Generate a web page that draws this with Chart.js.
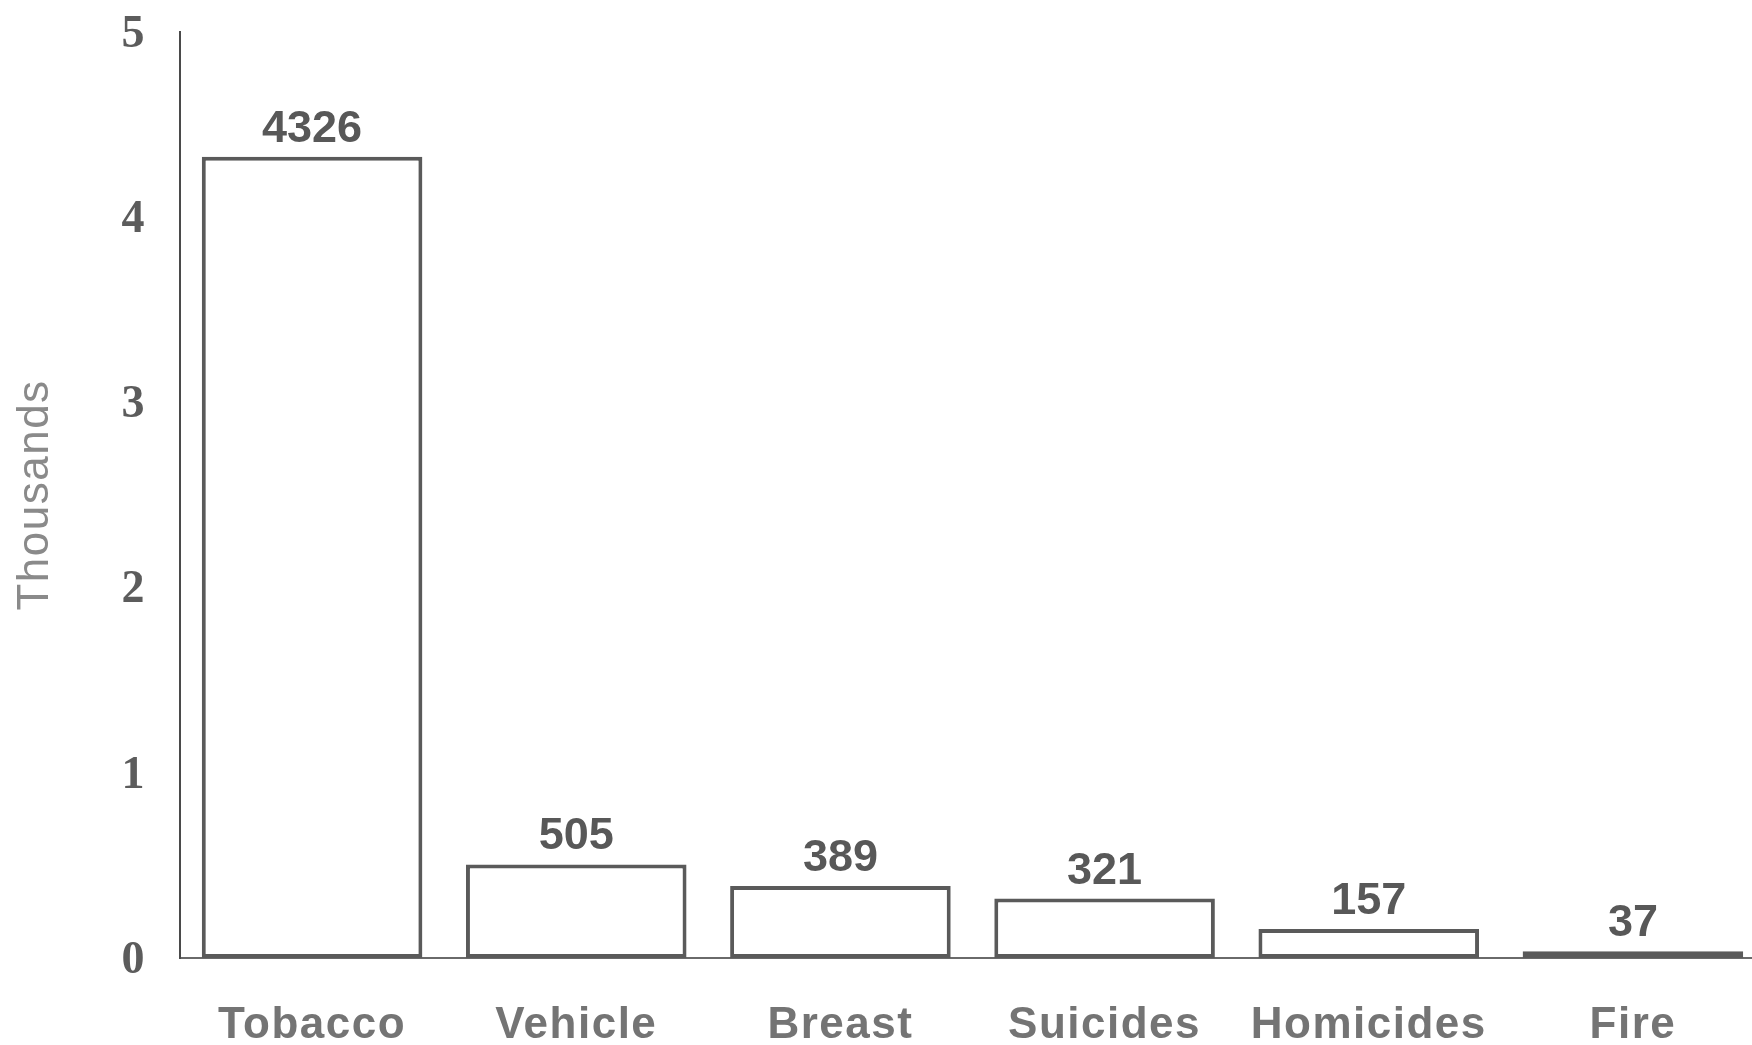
<!DOCTYPE html>
<html>
<head>
<meta charset="utf-8">
<title>Deaths by cause</title>
<script src="https://cdn.jsdelivr.net/npm/chart.js@4/dist/chart.umd.min.js"></script>
<style>
  html, body { margin: 0; padding: 0; background: #ffffff; overflow: hidden; }
  #wrap { width: 1780px; height: 1045px; }
</style>
</head>
<body>
<div id="wrap"><canvas id="chart" width="1780" height="1045"></canvas></div>
<script>
// Causes of death and their counts
const categories = ['Tobacco', 'Vehicle', 'Breast', 'Suicides', 'Homicides', 'Fire'];
const deaths = [4326, 505, 389, 321, 157, 37];
// Y axis shown in thousands
const yTickValues = [0, 1000, 2000, 3000, 4000, 5000];
const yAxisTitle = 'Thousands';

// Writes each bar's value just above it
const valueLabels = {
  id: 'valueLabels',
  afterDatasetsDraw(chart) {
    const ctx = chart.ctx;
    const meta = chart.getDatasetMeta(0);
    ctx.save();
    ctx.letterSpacing = '0px';
    ctx.font = 'bold 45px "Liberation Sans", Arial, sans-serif';
    ctx.fillStyle = '#585858';
    ctx.textAlign = 'center';
    ctx.textBaseline = 'alphabetic';
    meta.data.forEach((bar, i) => {
      ctx.fillText(String(chart.data.datasets[0].data[i]), bar.x, bar.y - 15);
    });
    ctx.restore();
  }
};

// Slightly spaced lettering for the category names
const spacedText = {
  id: 'spacedText',
  beforeDraw(chart) { chart.ctx.letterSpacing = '1.5px'; },
  afterDraw(chart) { chart.ctx.letterSpacing = '0px'; }
};

new Chart(document.getElementById('chart'), {
  type: 'bar',
  data: {
    labels: categories,
    datasets: [{
      data: deaths,
      backgroundColor: '#ffffff',
      borderColor: '#5a5a5a',
      borderWidth: 4,
      borderSkipped: false,
      categoryPercentage: 1.0,
      barPercentage: 0.835
    }]
  },
  options: {
    responsive: false,
    animation: false,
    devicePixelRatio: 1,
    layout: { padding: { top: 32, right: 15, left: 0, bottom: 0 } },
    plugins: { legend: { display: false }, tooltip: { enabled: false } },
    scales: {
      x: {
        grid: { display: false, drawTicks: false },
        border: { display: true, color: '#6a6a6a', width: 2 },
        ticks: {
          padding: 41,
          color: '#747474',
          font: { family: '"Liberation Sans", Arial, sans-serif', size: 44, weight: 'bold' }
        },
        afterFit(scale) {
          scale.height = 87;
          scale.paddingLeft = 0;
          scale.paddingRight = 0;
        }
      },
      y: {
        min: 0,
        max: 5000,
        afterBuildTicks(scale) { scale.ticks = yTickValues.map(v => ({ value: v })); },
        grid: { display: false, drawTicks: false },
        border: { display: true, color: '#4a4a4a', width: 2 },
        ticks: {
          padding: 34,
          labelOffset: 3,
          color: '#5c5c5c',
          font: { family: '"Liberation Serif", "Times New Roman", serif', size: 46, weight: 'bold' },
          callback: v => String(v / 1000)
        },
        title: {
          display: true,
          text: yAxisTitle,
          color: '#8a8a8a',
          padding: { top: 9, bottom: 0 },
          font: { family: '"Liberation Sans", Arial, sans-serif', size: 44, weight: 'normal' }
        },
        afterFit(scale) {
          scale.width = 180;
          scale.paddingTop = 0;
          scale.paddingBottom = 0;
        }
      }
    }
  },
  plugins: [spacedText, valueLabels]
});
</script>
</body>
</html>
